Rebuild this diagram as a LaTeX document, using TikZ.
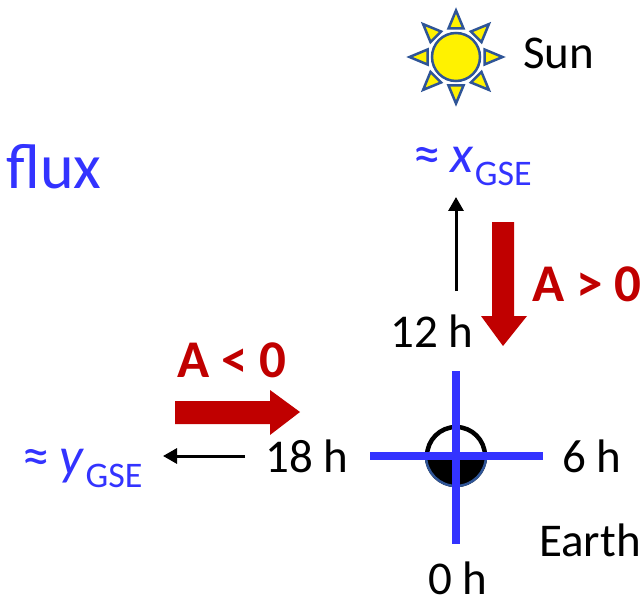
\documentclass[tikz,border=0pt]{standalone}
\usepackage{fontspec}
\setmainfont{Carlito}
\usetikzlibrary{arrows.meta}
\definecolor{fluxblue}{RGB}{51,51,255}
\definecolor{darkred}{RGB}{192,0,0}
\definecolor{sunedge}{RGB}{47,85,151}
\newcommand{\bigx}[1]{{\fontsize{55}{55}\selectfont ≈\hskip 10pt}{\fontsize{53}{53}\selectfont\textit{#1}}\hskip 1pt{\fontsize{36}{36}\selectfont\raisebox{-13pt}{GSE}}}
\tikzset{
  lab/.style={inner sep=0pt,font=\fontsize{47}{47}\selectfont,text=black},
  bluelab/.style={inner sep=0pt,text=fluxblue},
  redlab/.style={inner sep=0pt,text=darkred,font=\fontsize{53}{53}\selectfont\bfseries},
  axis/.style={draw=fluxblue,line width=8pt},
  thin arrow/.style={draw=black,line width=3pt,-{Triangle[length=14pt,width=15pt]}},
  block/.style={fill=darkred,draw=none},
  ray/.style={fill=yellow,draw=sunedge,line width=2.5pt,line join=miter}
}
\begin{document}
\begin{tikzpicture}[x=1pt,y=-1pt]
\useasboundingbox (0,0) rectangle (643,599);
% sun
\foreach \a in {0,45,...,315}{
  \begin{scope}[shift={(456,57)},rotate=\a]
    \path[ray] (-7.5,-28.5) -- (0,-46.5) -- (7.5,-28.5) -- cycle;
  \end{scope}
}
\node[circle,fill=yellow,draw=sunedge,line width=2.5pt,minimum size=48pt,inner sep=0pt] (sun) at (456,57) {};
\node[lab,anchor=base west] (sunlab) at (523,69) {Sun};
\node[inner sep=0pt,text=fluxblue,font=\fontsize{64}{64}\selectfont,anchor=base west] (flux) at (6,189) {flux};
\node[bluelab,anchor=base west] (xgse) at (413,173) {\bigx{x}};
\node[bluelab,anchor=base west] (ygse) at (22,474) {\bigx{y}};
\node[lab,anchor=base west] (h12) at (390,347) {12 h};
\node[lab,anchor=base west] (h18) at (265,472) {18 h};
\node[lab,anchor=base west] (h6) at (562,472) {6 h};
\node[lab,anchor=base west] (h0) at (428,594) {0 h};
\node[lab,anchor=base west] (earthlab) at (539,556) {Earth};
\node[redlab,anchor=base west] (apos) at (532,301) {A > 0};
\node[redlab,anchor=base west] (aneg) at (177,377) {A < 0};
% earth
\coordinate (earth) at (456,456);
\draw[black,line width=4.5pt] (earth) circle (29pt);
\fill[black] (427,456) arc[start angle=180,end angle=360,radius=29pt] -- cycle;
\draw[sunedge,line width=2.5pt] (426,456) arc[start angle=180,end angle=360,radius=30pt];
\coordinate (axtop) at (456,371);
\coordinate (axbot) at (456,544);
\coordinate (axleft) at (370,456);
\coordinate (axright) at (543,456);
\draw[axis] (axtop) -- (axbot);
\draw[axis] (axleft) -- (axright);
% thin arrows
\coordinate (a1s) at (456,291);
\coordinate (a1e) at (456,197);
\coordinate (a2s) at (245,456);
\coordinate (a2e) at (163,456);
\draw[thin arrow] (a1s) -- (a1e);
\draw[thin arrow] (a2s) -- (a2e);
% block arrows
\path[block] (492,222) -- (514,222) -- (514,316) -- (527,316) -- (503,346) -- (481,316) -- (492,316) -- cycle;
\path[block] (175,401) -- (270,401) -- (270,390) -- (300,412) -- (270,435) -- (270,424) -- (175,424) -- cycle;
\end{tikzpicture}
\end{document}
